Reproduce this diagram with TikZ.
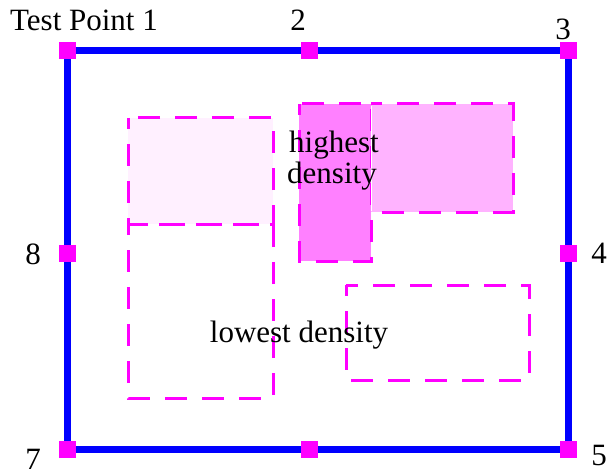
\documentclass[tikz,border=0pt]{standalone}
\usepackage{fontspec}
\setmainfont{Liberation Serif}
\definecolor{edgeblue}{HTML}{0000FF}
\definecolor{mag}{HTML}{FF00FF}
\definecolor{densehi}{HTML}{FF80FF}
\definecolor{densemid}{HTML}{FFB3FF}
\definecolor{denselo}{HTML}{FFF0FF}
\begin{document}
\begin{tikzpicture}[x=1pt,y=-1pt,
  lbl/.style={font=\fontsize{31}{30}\selectfont, inner sep=0pt, anchor=base},
  tpmark/.style={fill=mag, draw=none, minimum size=17pt, inner sep=0pt},
  region/.style={draw=mag, line width=3pt, dash pattern=on 22pt off 15pt, dash phase=11pt},
  boundary/.style={draw=edgeblue, line width=7pt}]
  \useasboundingbox (0,0) rectangle (608,476);

  % test point positions
  \coordinate (p1) at (67,51);
  \coordinate (p2) at (309,51);
  \coordinate (p3) at (568,51);
  \coordinate (p4) at (568,253);
  \coordinate (p5) at (568,449);
  \coordinate (p6) at (309,449);
  \coordinate (p7) at (67,449);
  \coordinate (p8) at (67,253);

  % density regions
  \fill[denselo] (128,118) rectangle (273,224);
  \fill[densehi] (299,104) rectangle (371,261);
  \draw[region] (128,118) rectangle (273,224);
  \draw[region] (128,224) rectangle (273,398);
  \draw[region] (299,104) rectangle (371,261);
  \fill[densemid] (371,104) rectangle (513,212);
  \draw[white, line width=1pt] (371,106) -- (371,211);
  \draw[region] (371,104) -- (513,104) -- (513,212) -- (371,212);
  \draw[region] (346,285) rectangle (529,380);

  % outer boundary with test points
  \draw[boundary] (p1) -- (p2) -- (p3) -- (p4) -- (p5) -- (p6) -- (p7) -- (p8) -- cycle;
  \foreach \i in {1,...,8} \node[tpmark] (tp\i) at (p\i) {};

  % labels
  \node[lbl] (l1) at (84,31) {Test Point 1};
  \node[lbl] (l2) at (298,31) {2};
  \node[lbl] (l3) at (563,40) {3};
  \node[lbl] (l4) at (599,263) {4};
  \node[lbl] (l5) at (599,465) {5};
  \node[lbl] (l7) at (33,469) {7};
  \node[lbl] (l8) at (33,264) {8};
  \node[lbl] (hi1) at (334,153) {highest};
  \node[lbl] (hi2) at (332,183) {density};
  \node[lbl] (lo) at (299,342) {lowest density};
\end{tikzpicture}
\end{document}
